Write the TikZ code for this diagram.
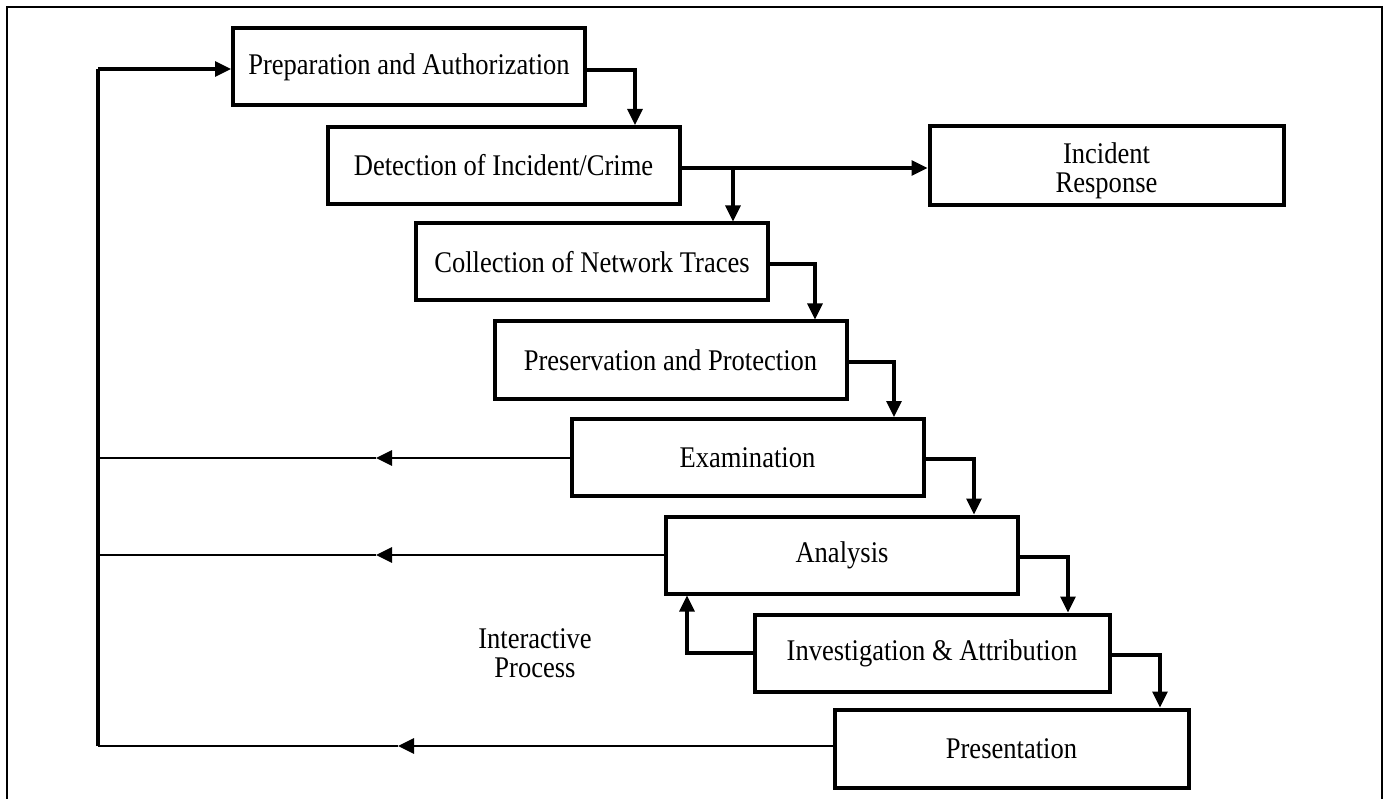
\documentclass[tikz,border=0pt]{standalone}
\usepackage{fontspec}
\setmainfont{Liberation Serif}[FakeStretch=0.885]
\usetikzlibrary{arrows.meta}
\begin{document}
\begin{tikzpicture}[x=1pt,y=-1pt,
  every node/.style={font=\fontsize{30}{29}\selectfont},
  stage/.style={draw, line width=4pt, inner sep=0pt, minimum height=77pt, minimum width=352pt, align=center},
  conn/.style={line width=3.2pt, -{Triangle[length=16pt,width=15pt]}},
  fbline/.style={line width=2.2pt},
  fbarrow/.style={line width=2.8pt, -{Triangle[length=16pt,width=15pt]}},
  bus/.style={line width=4pt},
  frame/.style={line width=1.5pt}]
\useasboundingbox (0,0) rectangle (1391,799);
\draw[frame] (7,799) -- (7,7) -- (1382,7) -- (1382,799);

\node[stage] (prep) at (409,67) {Preparation and Authorization};
\node[stage] (det)  at (503.5,165.5) {Detection of Incident/Crime};
\node[stage, minimum width=354pt, minimum height=79pt] (ir) at (1106.5,166) {};
\node[align=center] (irtext) at ([yshift=-5pt]ir.center) {Incident\\Response};
\node[stage] (col)  at (592,262) {Collection of Network Traces};
\node[stage] (prsv) at (670.5,360) {Preservation and Protection};
\node[stage] (exam) at (747.5,457.5) {Examination};
\node[stage] (ana)  at (842,555) {Analysis};
\node[stage, minimum width=355pt] (inv)  at (932,653) {Investigation \& Attribution};
\node[stage, minimum width=354pt, minimum height=78pt] (prs)  at (1011.5,748.5) {Presentation};

\node[align=center] (note) at (535,653) {Interactive\\Process};

% forward chain
\draw[conn] (prep.east |- 0,70) -| (det.north -| 635,0);
\draw[conn] (det.east |- 0,168) -- (ir.west |- 0,168);
\coordinate (br) at (733,168);
\draw[conn] (br) -- (col.north -| br);
\draw[conn] (col.east |- 0,264) -| (prsv.north -| 815,0);
\draw[conn] (prsv.east |- 0,362) -| (exam.north -| 894,0);
\draw[conn] (exam.east |- 0,459) -| (ana.north -| 974,0);
\draw[conn] (ana.east |- 0,557) -| (inv.north -| 1068,0);
\draw[conn] (inv.east |- 0,655) -| (prs.north -| 1160,0);

% feedback inside
\draw[conn] (inv.west |- 0,653) -| (ana.south -| 687,0);

% bus
\coordinate (bustop) at (98,69);
\coordinate (busbot) at (98,746);
\draw[bus] (busbot) -- (bustop);
\draw[conn] (bustop) -- (prep.west |- bustop);

\coordinate (t1) at (376,458);
\coordinate (b1) at (98,458);
\draw[fbarrow] (exam.west |- t1) -- (t1);
\draw[fbline] (t1) -- (b1);

\coordinate (t2) at (376,555);
\coordinate (b2) at (98,555);
\draw[fbarrow] (ana.west |- t2) -- (t2);
\draw[fbline] (t2) -- (b2);

\coordinate (t3) at (398,746);
\draw[fbarrow] (prs.west |- t3) -- (t3);
\draw[fbline] (t3) -- (busbot);
\end{tikzpicture}
\end{document}
